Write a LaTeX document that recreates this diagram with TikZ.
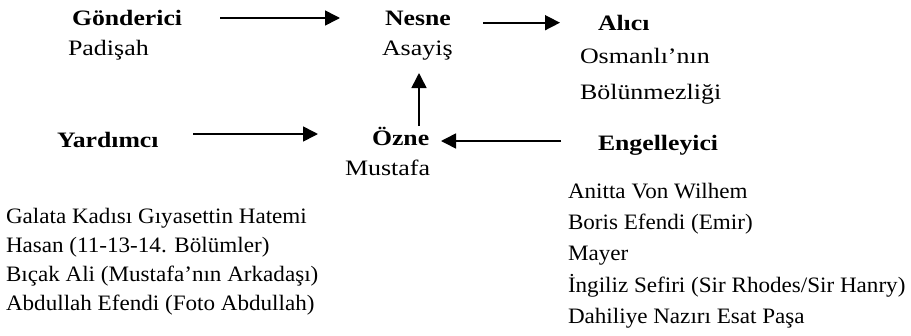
\documentclass[tikz,border=0pt]{standalone}
\usepackage{fontspec}
\setmainfont{Liberation Serif}
\newfontfamily\regf{Liberation Serif}[FakeStretch=1.05]
\newfontfamily\widef{Liberation Serif}[FakeStretch=1.18]
\newfontfamily\boldf{Liberation Serif}[FakeStretch=1.17]
\usetikzlibrary{arrows.meta}
\begin{document}
\begin{tikzpicture}[x=1pt,y=-1pt,
  every node/.style={inner sep=0pt, outer sep=0pt, anchor=base west},
  txt/.style={font=\regf\fontsize{22}{26}\selectfont},
  val/.style={font=\widef\fontsize{22}{26}\selectfont},
  hd/.style={font=\boldf\bfseries\fontsize{22}{26}\selectfont},
  arr/.style={line width=1.6pt, -{Triangle[length=15pt,width=15pt]}}]
\useasboundingbox (0,0) rectangle (911,335);
% top row
\node[hd]  (gon) at (72,25) {Gönderici};
\node[val] (gonv) at (68,55) {Padişah};
\node[hd]  (nes) at (385,25) {Nesne};
\node[val] (nesv) at (382,55) {Asayiş};
\node[hd]  (ali) at (598,30) {Alıcı};
\node[val] (aliv1) at (580,63) {Osmanlı’nın};
\node[val] (aliv2) at (580,99) {Bölünmezliği};
% middle row
\node[hd]  (yar) at (57,147) {Yardımcı};
\node[hd]  (ozn) at (372,145) {Özne};
\node[val] (oznv) at (345,175) {Mustafa};
\node[hd]  (eng) at (598,150) {Engelleyici};
% helpers
\node[txt] (y1) at (6,223) {Galata Kadısı Gıyasettin Hatemi};
\node[txt] (y2) at (6,252) {Hasan (11-13-14. Bölümler)};
\node[txt] (y3) at (6,281) {Bıçak Ali (Mustafa’nın Arkadaşı)};
\node[txt] (y4) at (6,310) {Abdullah Efendi (Foto Abdullah)};
% opponents
\node[txt] (e1) at (568,198) {Anitta Von Wilhem};
\node[txt] (e2) at (568,229) {Boris Efendi (Emir)};
\node[txt] (e3) at (568,260) {Mayer};
\node[txt] (e4) at (568,292) {İngiliz Sefiri (Sir Rhodes/Sir Hanry)};
\node[txt] (e5) at (568,323) {Dahiliye Nazırı Esat Paşa};
% connectors
\draw[arr] ([xshift=148pt,yshift=7pt]gon.base west) -- ([xshift=-45pt,yshift=7pt]nes.base west);
\draw[arr] ([xshift=98pt,yshift=2.3pt]nes.base west) -- ([xshift=-38pt,yshift=7.3pt]ali.base west);
\draw[arr] ([xshift=136pt,yshift=13pt]yar.base west) -- ([xshift=-54pt,yshift=11pt]ozn.base west);
\draw[arr] ([xshift=-37pt,yshift=9pt]eng.base west) -- ([xshift=69pt,yshift=4pt]ozn.base west);
\draw[arr] ([xshift=47pt,yshift=19pt]ozn.base west) -- ([xshift=37pt,yshift=-18pt]nesv.base west);
\end{tikzpicture}
\end{document}
